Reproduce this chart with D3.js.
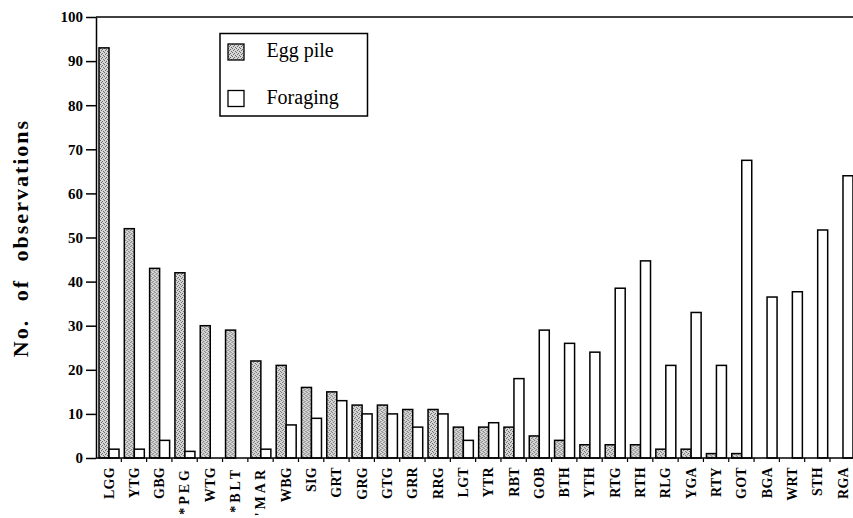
<!DOCTYPE html>
<html>
<head>
<meta charset="utf-8">
<script src="https://cdn.jsdelivr.net/npm/d3@7"></script>
<style>
  body { margin: 0; background: #fff; }
  svg { display: block; }
</style>
</head>
<body>
<svg id="chart" width="853" height="518"></svg>
<script>
const categories = ["LGG","YTG","GBG","*PEG","WTG","*BLT","'MAR","WBG","SIG","GRT","GRG","GTG","GRR","RRG","LGT","YTR","RBT","GOB","BTH","YTH","RTG","RTH","RLG","YGA","RTY","GOT","BGA","WRT","STH","RGA"];
const eggPile  = [93,52,43,42,30,29,22,21,16,15,12,12,11,11,7,7,7,5,4,3,3,3,2,2,1,1,0,0,0,0];
const foraging = [2,2,4,1.5,0,0,2,7.5,9,13,10,10,7,10,4,8,18,29,26,24,38.5,44.7,21,33,21,67.5,36.5,37.7,51.7,64];
const yTicks = [0,10,20,30,40,50,60,70,80,90,100];
const seriesNames = ["Egg pile","Foraging"];

const svg = d3.select("#chart");
const serif = "Liberation Serif, Times New Roman, serif";

const defs = svg.append("defs");
const pat = defs.append("pattern").attr("id","stip").attr("patternUnits","userSpaceOnUse")
  .attr("width",4).attr("height",4);
pat.append("rect").attr("width",4).attr("height",4).attr("fill","#d6d6d6");
[[0,0],[2,1],[1,2],[3,3]].forEach(([a,b]) =>
  pat.append("rect").attr("x",a).attr("y",b).attr("width",1).attr("height",1).attr("fill","#6a6a6a"));

const left = 96, step = 25.31;
const x = d3.scaleBand().domain(categories).range([left, left + step*categories.length]).padding(0);
const xSub = d3.scaleBand().domain(seriesNames).range([3, 23]).padding(0);
const y = d3.scaleLinear().domain([0,100]).range([458,17]);

const fills = {"Egg pile":"url(#stip)", "Foraging":"#fff"};
const data = categories.map((c,i) => ({c, vals:[{k:"Egg pile",v:eggPile[i]},{k:"Foraging",v:foraging[i]}]}));

const groups = svg.append("g").selectAll("g").data(data).join("g")
  .attr("transform", d => `translate(${x(d.c)},0)`);
groups.selectAll("rect").data(d => d.vals.filter(e => e.v > 0)).join("rect")
  .attr("x", e => xSub(e.k))
  .attr("width", xSub.bandwidth())
  .attr("y", e => y(e.v))
  .attr("height", e => y(0) - y(e.v))
  .attr("fill", e => fills[e.k])
  .attr("stroke", "#000")
  .attr("stroke-width", 1.5);

// Y axis
const yAxis = svg.append("g").attr("transform",`translate(${left},0)`)
  .call(d3.axisLeft(y).tickValues(yTicks).tickSize(10).tickSizeOuter(0).tickPadding(3).tickFormat(d3.format("d")));
yAxis.selectAll("path, line").attr("stroke","#000").attr("stroke-width",1.5);
yAxis.selectAll("text").attr("font-family",serif).attr("font-weight","bold").attr("font-size","15px").attr("fill","#000");

// top and bottom lines
svg.append("line").attr("x1",left).attr("x2",853).attr("y1",y(100)).attr("y2",y(100)).attr("stroke","#000").attr("stroke-width",1.5);
svg.append("line").attr("x1",left).attr("x2",853).attr("y1",y(0)).attr("y2",y(0)).attr("stroke","#000").attr("stroke-width",1.5);

// X boundary ticks
svg.append("g").selectAll("line").data(categories.slice(1)).join("line")
  .attr("x1", c => x(c)).attr("x2", c => x(c))
  .attr("y1", y(0)).attr("y2", y(0)+4)
  .attr("stroke","#000").attr("stroke-width",1.2);

// X labels
const xAxis = svg.append("g").attr("transform",`translate(0,${y(0)})`)
  .call(d3.axisBottom(x).tickSize(0).tickPadding(0));
xAxis.select(".domain").remove();
xAxis.selectAll("text")
  .attr("font-family",serif).attr("font-weight","bold").attr("font-size","14px").attr("fill","#000")
  .attr("text-anchor","end")
  .attr("transform","translate(0,9) rotate(-90)")
  .attr("x",0).attr("y",0).attr("dy","0.35em")
  .attr("letter-spacing", d => (d[0]==="*"||d[0]==="'") ? "3px" : "0.3px");

// Y label
svg.append("text")
  .attr("transform","translate(28,238) rotate(-90)")
  .attr("text-anchor","middle")
  .attr("font-family",serif).attr("font-weight","bold").attr("font-size","22px")
  .attr("letter-spacing","2px").attr("word-spacing","10px")
  .text("No. of observations");

// Legend
const lg = svg.append("g");
lg.append("rect").attr("x",220).attr("y",33.5).attr("width",147.5).attr("height",82.5)
  .attr("fill","#fff").attr("stroke","#000").attr("stroke-width",1.5);
const items = lg.selectAll("g").data(seriesNames).join("g")
  .attr("transform",(d,i) => `translate(228,${44 + i*46.5})`);
items.append("rect").attr("width",16).attr("height",16)
  .attr("fill", d => fills[d]).attr("stroke","#000").attr("stroke-width",1.3);
items.append("text").attr("x",38.5).attr("y",13.3)
  .attr("font-family",serif).attr("font-size","20px").attr("fill","#000").text(d => d);
</script>
</body>
</html>
